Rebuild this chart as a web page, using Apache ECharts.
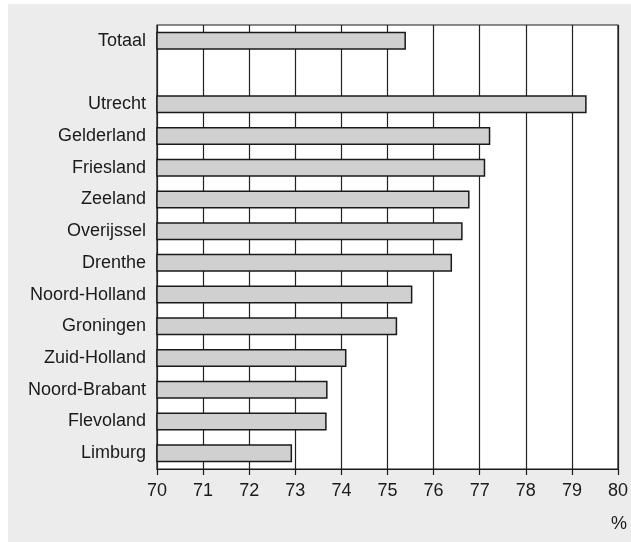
<!DOCTYPE html>
<html>
<head>
<meta charset="utf-8">
<script src="https://cdn.jsdelivr.net/npm/echarts@6/dist/echarts.min.js"></script>
<style>
html,body{margin:0;padding:0;background:#fff;}
#chart{width:631px;height:542px;}
</style>
</head>
<body>
<div id="chart"></div>
<script>
// categories top-to-bottom (empty slot between Totaal and Utrecht)
const categories = ['Totaal', '', 'Utrecht', 'Gelderland', 'Friesland', 'Zeeland', 'Overijssel',
  'Drenthe', 'Noord-Holland', 'Groningen', 'Zuid-Holland', 'Noord-Brabant', 'Flevoland', 'Limburg'];
const values = [75.40, null, 79.32, 77.23, 77.12, 76.78, 76.63,
  76.40, 75.54, 75.21, 74.11, 73.70, 73.68, 72.93];
const xTicks = [70, 71, 72, 73, 74, 75, 76, 77, 78, 79, 80];
const unitLabel = '%';

const chart = echarts.init(document.getElementById('chart'), null, {renderer: 'canvas'});
const font = 'Liberation Sans, Arial, Helvetica, sans-serif';
chart.setOption({
  animation: false,
  backgroundColor: '#ffffff',
  graphic: [
    {type: 'rect', left: 8, top: 4, z: -10, silent: true,
     shape: {width: 623, height: 538}, style: {fill: '#ececec'}},
    {type: 'text', left: 611, top: 515, z: 10,
     style: {text: unitLabel, font: '18px ' + font, fill: '#1a1a1a'}}
  ],
  grid: {
    left: 157, right: 11, top: 25, bottom: 73,
    show: true, backgroundColor: '#ffffff', borderColor: '#1a1a1a', borderWidth: 1.2
  },
  xAxis: {
    type: 'value', min: xTicks[0], max: xTicks[xTicks.length - 1], interval: 1,
    axisLine: {show: true, lineStyle: {color: '#1a1a1a', width: 1.2}},
    axisTick: {show: true, length: 6, lineStyle: {color: '#1a1a1a', width: 1.2}},
    axisLabel: {color: '#1a1a1a', fontSize: 18, fontFamily: font, margin: 13},
    splitLine: {show: true, lineStyle: {color: '#222222', width: 1.2}}
  },
  yAxis: {
    type: 'category', data: categories, inverse: true,
    axisLine: {show: false}, axisTick: {show: false},
    axisLabel: {color: '#1a1a1a', fontSize: 18, fontFamily: font, margin: 11},
    splitLine: {show: false}
  },
  series: [{
    type: 'bar', data: values, barWidth: 18,
    itemStyle: {color: '#d0d0d0', borderColor: '#1a1a1a', borderWidth: 1.5}
  }]
});
</script>
</body>
</html>
